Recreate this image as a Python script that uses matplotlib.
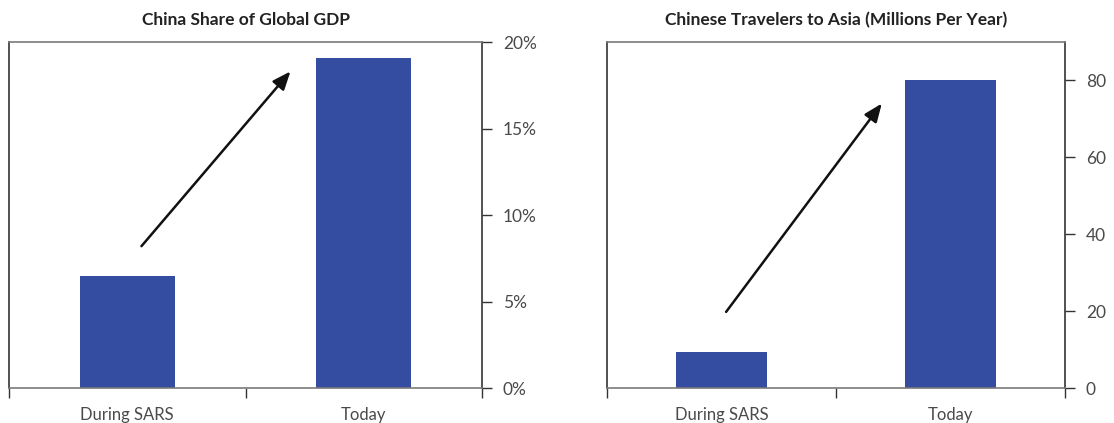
import numpy as np
import matplotlib.pyplot as plt
import matplotlib.ticker as mticker

plt.rcParams['font.family'] = 'Lato'

# --- Data ---
categories = ['During SARS', 'Today']
gdp_share = [6.5, 19.1]          # % of global GDP
travelers = [9.4, 80.0]          # millions per year
gdp_arrow = [(0.06, 8.2), (0.69, 18.3)]
travel_arrow = [(0.02, 19.8), (0.70, 74.0)]

BAR_COLOR = '#354DA1'
TICK_COLOR = '#4a4a4a'

fig = plt.figure(figsize=(11.14, 4.23), dpi=100)
ax1 = fig.add_axes([0.0081, 0.0827, 0.4246, 0.818])
ax2 = fig.add_axes([0.5449, 0.0827, 0.4111, 0.818])

panels = [
    (ax1, gdp_share, 'China Share of Global GDP', (0, 20), [0, 5, 10, 15, 20], '{x:.0f}%', gdp_arrow),
    (ax2, travelers, 'Chinese Travelers to Asia (Millions Per Year)', (0, 90), [0, 20, 40, 60, 80], '{x:.0f}', travel_arrow),
]

for ax, vals, title, ylim, yticks, fmt, arrow in panels:
    x = np.arange(len(categories))
    ax.bar(x, vals, width=0.4, color=BAR_COLOR, zorder=2)
    ax.set_xlim(-0.5, 1.5)
    ax.set_ylim(*ylim)

    # category labels without ticks, boundary ticks as minor
    ax.set_xticks(x)
    ax.set_xticklabels(categories)
    ax.set_xticks([-0.5, 0.5, 1.5], minor=True)
    ax.tick_params(axis='x', which='major', length=0, pad=14, labelsize=12, labelcolor=TICK_COLOR)
    ax.tick_params(axis='x', which='minor', length=7, width=1, color='#333333', direction='out')

    ax.yaxis.tick_right()
    ax.set_yticks(yticks)
    ax.yaxis.set_major_formatter(mticker.StrMethodFormatter(fmt))
    ax.tick_params(axis='y', length=7, width=1, color='#333333', pad=8,
                   labelsize=12.5, labelcolor=TICK_COLOR, direction='out')

    for side in ['left', 'right']:
        ax.spines[side].set_color('#333333')
        ax.spines[side].set_linewidth(1.2)
    for side in ['top', 'bottom']:
        ax.spines[side].set_color('#7a7a7a')
        ax.spines[side].set_linewidth(1.2)

    ax.annotate('', xy=arrow[1], xytext=arrow[0],
                arrowprops=dict(arrowstyle='-|>,head_length=1.1,head_width=0.45',
                                color='#111111', lw=1.8, shrinkA=0, shrinkB=0),
                zorder=3)

    ax.set_title(title, fontsize=12.5, fontweight='bold', color='#222222', pad=12)

fig.savefig('out.png', dpi=100)
